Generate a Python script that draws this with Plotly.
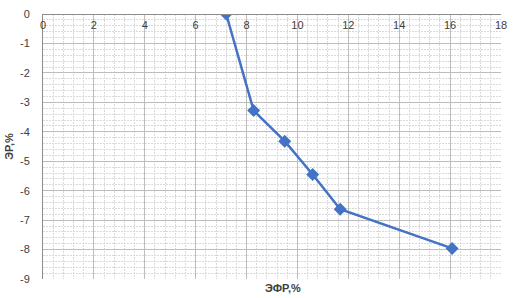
import plotly.graph_objects as go

efr = [7.2, 8.28, 9.5, 10.6, 11.68, 16.08]
er = [0.0, -3.28, -4.32, -5.45, -6.63, -7.96]

x_tick_vals = [0, 2, 4, 6, 8, 10, 12, 14, 16, 18]
x_tick_text = ["0", "2", "4", "6", "8", "10", "12", "14", "16", "18"]
y_tick_vals = [0, -1, -2, -3, -4, -5, -6, -7, -8, -9]
y_tick_text = ["0", "-1", "-2", "-3", "-4", "-5", "-6", "-7", "-8", "-9"]

blue = "rgb(68,114,196)"
font = "Liberation Sans"
minor_color = "#dadada"
major_color = "#bdbdbd"

fig = go.Figure()
fig.add_trace(go.Scatter(
    x=efr, y=er, mode="lines+markers",
    line=dict(color=blue, width=2.5),
    marker=dict(symbol="diamond", size=10, color=blue),
    showlegend=False,
))

pw = 515 - 39 - 10
ph = 298 - 8 - 19

fig.update_layout(
    width=515, height=298,
    margin=dict(l=39, r=10, t=8, b=19),
    paper_bgcolor="white", plot_bgcolor="white",
    font=dict(family=font, size=11, color="#404040"),
    xaxis=dict(
        range=[0, 18], side="bottom", anchor="free", position=1,
        tickvals=x_tick_vals, ticktext=x_tick_text,
        ticklabelstandoff=1,
        ticks="", showline=True, linecolor="#8c8c8c", linewidth=1,
        showgrid=True, gridcolor=major_color, gridwidth=1,
        zeroline=False,
        minor=dict(dtick=0.4, showgrid=True, gridcolor=minor_color, griddash="2px,1px", gridwidth=1),
    ),
    yaxis=dict(
        range=[-9, 0],
        tickvals=y_tick_vals, ticktext=y_tick_text,
        ticks="", showline=True, linecolor="#8c8c8c", linewidth=1,
        showgrid=True, gridcolor=major_color, gridwidth=1,
        zeroline=False, ticklabelstandoff=10,
        minor=dict(dtick=0.2, showgrid=True, gridcolor=minor_color, griddash="2px,1px", gridwidth=1),
        title=dict(text="<b>ЭР,%</b>", font=dict(size=11, color="#404040"), standoff=4),
    ),
    annotations=[dict(
        text="<b>ЭФР,%</b>", x=(283 - 39) / pw, y=(279 - 288) / ph,
        xref="paper", yref="paper", xanchor="center", yanchor="middle",
        showarrow=False, font=dict(size=11, color="#404040"),
    )],
)

fig.write_html("out.html")
